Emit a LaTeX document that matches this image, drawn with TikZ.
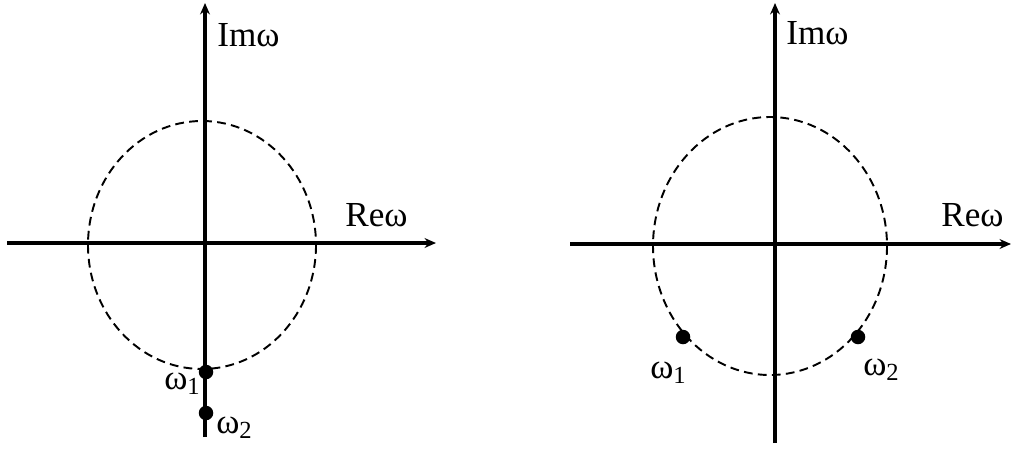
\documentclass[tikz,border=0pt]{standalone}
\usepackage{fontspec}
\setmainfont{Liberation Serif}
\usetikzlibrary{arrows.meta}

\begin{document}
\begin{tikzpicture}[x=0.02cm, y=-0.02cm, >={Stealth[length=6.5pt, width=5.6pt]},
  axis/.style={line width=2pt},
  ring/.style={line width=1.1pt, dash pattern=on 5pt off 3pt},
  pole/.style={circle, fill, inner sep=0pt, minimum size=0.29cm},
  lbl/.style={font=\fontsize{20}{24}\selectfont, inner sep=0pt, anchor=base west}]
\useasboundingbox (0,0) rectangle (1016,450);
% left plane: both roots on the imaginary axis
\coordinate (Lxs) at (7,243);
\coordinate (Lxe) at (436,243);
\coordinate (Lys) at (205,437);
\coordinate (Lye) at (205,3);
\draw[ring] (202,245) ellipse [x radius=114, y radius=124];
\draw[axis, ->] (Lxs) -- (Lxe);
\draw[axis, ->] (Lys) -- (Lye);
\node[pole] (Lw1) at (206,372) {};
\node[pole] (Lw2) at (206,413) {};
\node[lbl] (LIm) at (217,46) {Imω};
\node[lbl] (LRe) at (345,226) {Reω};
\node[lbl] (Ll1) at (164,389) {ω\textsubscript{1}};
\node[lbl] (Ll2) at (216,433) {ω\textsubscript{2}};
% right plane: roots on the circle
\coordinate (Rxs) at (570,244);
\coordinate (Rxe) at (1011,244);
\coordinate (Rys) at (775,443);
\coordinate (Rye) at (775,3);
\draw[ring] (770,246) ellipse [x radius=117, y radius=129];
\draw[axis, ->] (Rxs) -- (Rxe);
\draw[axis, ->] (Rys) -- (Rye);
\node[pole] (Rw1) at (683,337) {};
\node[pole] (Rw2) at (858,337) {};
\node[lbl] (RIm) at (786,44) {Imω};
\node[lbl] (RRe) at (941,226) {Reω};
\node[lbl] (Rl1) at (650,378) {ω\textsubscript{1}};
\node[lbl] (Rl2) at (863,375) {ω\textsubscript{2}};
\end{tikzpicture}
\end{document}
